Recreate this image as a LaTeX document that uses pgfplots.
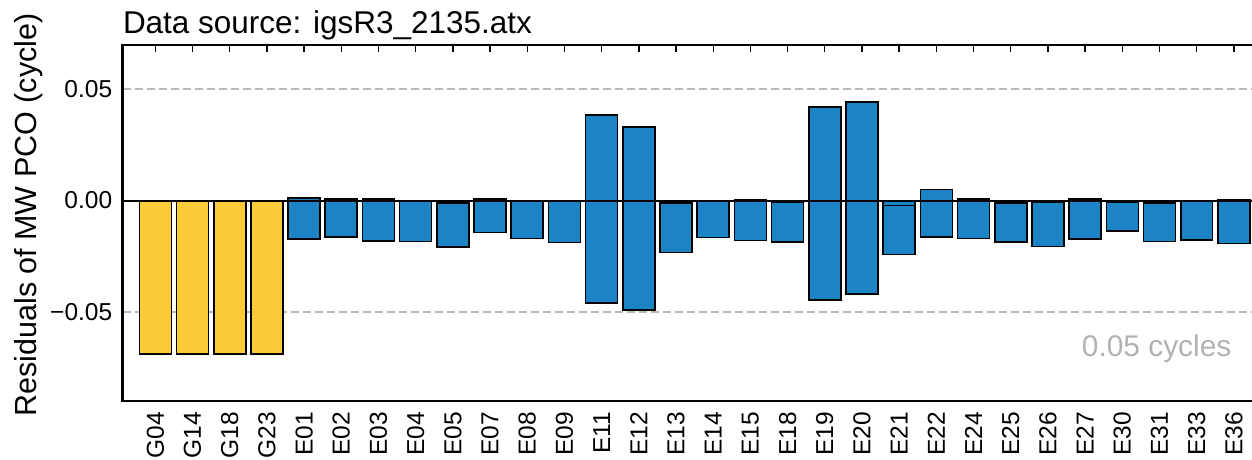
\documentclass[border=0pt]{standalone}
\usepackage{fontspec}
\setmainfont{Liberation Sans}
\usepackage{pgfplots}
\pgfplotsset{compat=1.18}
\usepackage{pgfplotstable}

\definecolor{gpsgold}{RGB}{253,203,58}
\definecolor{galblue}{RGB}{28,131,197}
\definecolor{gridgray}{RGB}{185,185,185}
\definecolor{notegray}{RGB}{178,178,182}

% GPS satellites: residual range (lower / upper) per PRN
\pgfplotstableread{
x  lo      hi
0  -0.0690 0
1  -0.0690 0
2  -0.0690 0
3  -0.0690 0
}\gpsres

% Galileo satellites: residual range (lower / upper) per PRN
\pgfplotstableread{
x  lo      hi
4  -0.0173  0.0011
5  -0.0163  0.0007
6  -0.0181  0.0007
7  -0.0184 -0.0003
8  -0.0210 -0.0010
9  -0.0143  0.0008
10 -0.0170 -0.0004
11 -0.0188 -0.0003
12 -0.0460  0.0386
13 -0.0493  0.0332
14 -0.0233 -0.0010
15 -0.0166 -0.0005
16 -0.0179  0.0005
17 -0.0185 -0.0008
18 -0.0446  0.0422
19 -0.0419  0.0442
20 -0.0242 -0.0022
21 -0.0165  0.0049
22 -0.0170  0.0008
23 -0.0187 -0.0011
24 -0.0206 -0.0008
25 -0.0172  0.0007
26 -0.0136 -0.0008
27 -0.0184 -0.0011
28 -0.0178 -0.0004
29 -0.0193  0.0005
}\galres

\begin{document}
\begin{tikzpicture}
\useasboundingbox (0,0) rectangle (626bp,230bp);
\begin{axis}[
  at={(61.3bp,29.65bp)}, anchor=south west,
  scale only axis, width=572bp, height=177.9bp,
  xmin=-0.88, xmax=29.88, ymin=-0.09, ymax=0.07,
  axis line style={line width=1.1bp},
  xtick={0,...,29},
  xticklabels={G04,G14,G18,G23,E01,E02,E03,E04,E05,E07,E08,E09,E11,E12,E13,E14,E15,E18,E19,E20,E21,E22,E24,E25,E26,E27,E30,E31,E33,E36},
  xtick style={draw=none},
  ytick={-0.05,0,0.05}, yticklabels={−0.05,0.00,0.05},
  scaled y ticks=false,
  ytick style={draw=none},
  ymajorgrids,
  grid style={gridgray, dash pattern=on 4bp off 2bp, line width=0.9bp},
  ticklabel style={font=\fontsize{12.3}{14}\selectfont, inner sep=0pt},
  xticklabel style={rotate=90, anchor=east},
  xticklabel shift=5.5bp, yticklabel shift=5bp,
]
\addplot[ybar, bar width=0.86, bar shift=0pt, fill=gpsgold, draw=black, line width=0.8bp] table[x=x, y=lo] {\gpsres};
\addplot[ybar, bar width=0.86, bar shift=0pt, fill=galblue, draw=black, line width=0.8bp] table[x=x, y=lo] {\galres};
\addplot[ybar, bar width=0.86, bar shift=0pt, fill=galblue, draw=black, line width=0.8bp] table[x=x, y=hi] {\galres};
\draw[black, line width=1bp] (axis cs:-0.88,0) -- (axis cs:29.88,0);
% inward ticks along the top edge
\pgfplotsinvokeforeach{0,...,29}{
  \draw[black, line width=0.7bp] (axis cs:#1,0.07) -- ([yshift=-3.5bp]axis cs:#1,0.07);
}
\end{axis}
\node[anchor=base west, inner sep=0pt, font=\fontsize{15.8}{19}\selectfont] at (61.3bp,213.3bp) {Data source: igsR3\_2135.atx};
\node[rotate=90, anchor=base, inner sep=0pt, font=\fontsize{15.3}{18}\selectfont] at (18bp,122.5bp) {Residuals of MW PCO (cycle)};
\node[anchor=base east, inner sep=0pt, text=notegray, font=\fontsize{15}{18}\selectfont] at (615.9bp,51.7bp) {0.05 cycles};
\end{tikzpicture}
\end{document}
